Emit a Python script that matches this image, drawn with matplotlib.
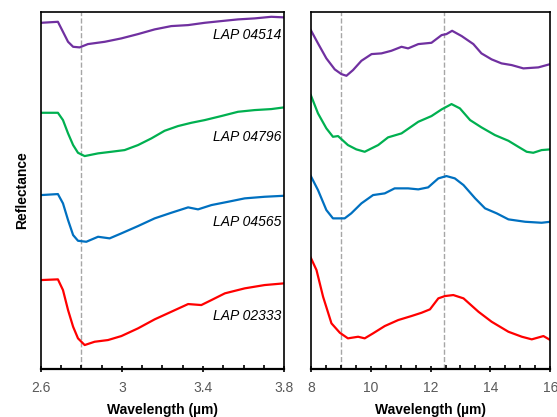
import numpy as np
import matplotlib
matplotlib.use('Agg')
from matplotlib import pyplot as plt
from matplotlib.ticker import MultipleLocator

plt.rcParams['font.family'] = ['Liberation Sans', 'DejaVu Sans']

# 3 um region (relative reflectance, offset for clarity)
x_3um = {
    'LAP 04514': [2.603, 2.685, 2.71, 2.735, 2.76, 2.792, 2.833, 2.916, 2.998, 3.08, 3.162, 3.244, 3.327, 3.409, 3.49, 3.573, 3.655, 3.737, 3.8],
    'LAP 04796': [2.603, 2.685, 2.71, 2.735, 2.76, 2.784, 2.817, 2.883, 2.948, 3.014, 3.08, 3.146, 3.211, 3.277, 3.343, 3.409, 3.49, 3.573, 3.655, 3.737, 3.8],
    'LAP 04565': [2.603, 2.685, 2.71, 2.735, 2.76, 2.784, 2.825, 2.883, 2.94, 2.998, 3.08, 3.162, 3.244, 3.327, 3.376, 3.442, 3.524, 3.606, 3.704, 3.8],
    'LAP 02333': [2.603, 2.685, 2.71, 2.735, 2.76, 2.784, 2.817, 2.866, 2.932, 2.998, 3.08, 3.162, 3.244, 3.327, 3.392, 3.442, 3.508, 3.606, 3.704, 3.8],
}
y_3um = {
    'LAP 04514': [346.3, 347.3, 337.3, 327.3, 322.3, 321.7, 325, 327.3, 330.7, 335, 339.7, 343, 344, 346.3, 348, 349.7, 350.7, 352.3, 351.7],
    'LAP 04796': [256.3, 256.3, 249, 235.7, 224, 216.3, 213, 215.7, 217.3, 219, 224, 230.7, 238.3, 243, 246.3, 249, 253, 257.3, 259, 260, 261.7],
    'LAP 04565': [174, 175, 165.7, 149, 134, 128.3, 127.3, 132.3, 130.7, 135.7, 143, 150.7, 156.3, 161.7, 159.7, 164, 167.3, 170.7, 172.3, 173.3],
    'LAP 02333': [89, 89.7, 79, 59, 42.3, 30.7, 24, 27.3, 29, 33, 40.7, 49.7, 57.3, 65, 64, 69, 75.7, 80.7, 84, 85.7],
}

# mid-IR region
x_mir = {
    'LAP 04514': [8.0, 8.24, 8.52, 8.80, 9.02, 9.19, 9.41, 9.69, 10.03, 10.36, 10.69, 11.03, 11.25, 11.59, 12.03, 12.37, 12.53, 12.72, 13.04, 13.43, 13.70, 14.04, 14.37, 14.71, 15.10, 15.60, 16.0],
    'LAP 04796': [8.0, 8.24, 8.52, 8.74, 8.91, 9.24, 9.52, 9.80, 10.25, 10.58, 11.03, 11.59, 12.03, 12.37, 12.70, 12.98, 13.32, 13.70, 14.15, 14.60, 14.93, 15.21, 15.43, 15.71, 16.0],
    'LAP 04565': [8.0, 8.24, 8.52, 8.74, 9.13, 9.35, 9.69, 10.08, 10.47, 10.80, 11.25, 11.59, 11.92, 12.26, 12.53, 12.81, 13.10, 13.49, 13.82, 14.21, 14.60, 15.16, 15.71, 16.0],
    'LAP 02333': [8.0, 8.19, 8.41, 8.69, 8.97, 9.24, 9.58, 9.80, 10.08, 10.47, 10.92, 11.36, 11.70, 11.98, 12.26, 12.48, 12.76, 13.10, 13.60, 14.04, 14.60, 15.05, 15.38, 15.77, 16.0],
}
y_mir = {
    'LAP 04514': [339, 325.7, 310.7, 299.7, 295, 293.3, 299, 308.3, 315, 315.7, 318.3, 322.3, 320.7, 325, 326.3, 334, 335, 338.3, 333, 325, 315.7, 309.7, 305.7, 304, 300.7, 301.7, 305],
    'LAP 04796': [274, 255.7, 240.7, 232.3, 233, 224, 219.7, 217.3, 224, 231.7, 235.7, 247.3, 253, 259.7, 265, 260.7, 249, 241.7, 234, 228.3, 222.3, 217.3, 216.3, 219, 219.7],
    'LAP 04565': [193, 179, 159, 150.7, 150.7, 155.7, 165.7, 174, 175.7, 180.7, 180.7, 179.7, 181.7, 190.7, 193, 190.7, 184, 170.7, 160.7, 155.7, 149.7, 147.3, 146.3, 147.3],
    'LAP 02333': [111.3, 99, 72.3, 45.7, 36.3, 30.7, 32.3, 30.7, 35.7, 43, 49, 53, 56.3, 59.7, 70.7, 73, 74, 70.7, 57.3, 47.3, 37.3, 32.3, 29.7, 33, 29],
}

colors = {'LAP 04514': '#7030A0', 'LAP 04796': '#00B050',
          'LAP 04565': '#0070C0', 'LAP 02333': '#FF0000'}
label_y = {'LAP 04514': 334, 'LAP 04796': 232, 'LAP 04565': 147, 'LAP 02333': 53}

band_3um = [2.8]
bands_mir = [9.0, 12.45]


def style_axis(ax):
    for s in ax.spines.values():
        s.set_linewidth(1.2)
        s.set_color('black')
    ax.spines['bottom'].set_linewidth(1.6)
    ax.set_yticks([])
    ax.tick_params(axis='x', which='major', direction='inout', length=5, width=1.2,
                   labelsize=10, labelcolor='#595959', pad=6)
    ax.tick_params(axis='x', which='minor', direction='in', length=3, width=1.2)
    ax.set_xlabel('Wavelength (µm)', fontsize=10, fontweight='bold', labelpad=6)
    ax.set_ylim(0, 357)


fig = plt.figure(figsize=(5.57, 4.17), dpi=100)
ax1 = fig.add_axes([0.073, 0.115, 0.437, 0.856])
ax2 = fig.add_axes([0.558, 0.115, 0.430, 0.856])

for name in x_3um:
    ax1.plot(x_3um[name], y_3um[name], color=colors[name], lw=1.6,
             solid_joinstyle='round')
    ax1.text(3.785, label_y[name], name, ha='right', va='center',
             fontsize=10, style='italic')
for b in band_3um:
    ax1.axvline(b, color='#A6A6A6', ls='--', lw=1.0, zorder=0)
ax1.set_xlim(2.6, 3.8)
ax1.set_xticks([2.6, 3.0, 3.4, 3.8])
ax1.set_xticklabels(['2.6', '3', '3.4', '3.8'])
ax1.xaxis.set_minor_locator(MultipleLocator(0.1))
style_axis(ax1)
ax1.set_ylabel('Reflectance', fontsize=10, fontweight='bold', labelpad=8)

for name in x_mir:
    ax2.plot(x_mir[name], y_mir[name], color=colors[name], lw=1.6,
             solid_joinstyle='round')
for b in bands_mir:
    ax2.axvline(b, color='#A6A6A6', ls='--', lw=1.0, zorder=0)
ax2.set_xlim(8, 16)
ax2.set_xticks([8, 10, 12, 14, 16])
ax2.xaxis.set_minor_locator(MultipleLocator(0.5))
style_axis(ax2)

fig.savefig('out.png', dpi=100)
